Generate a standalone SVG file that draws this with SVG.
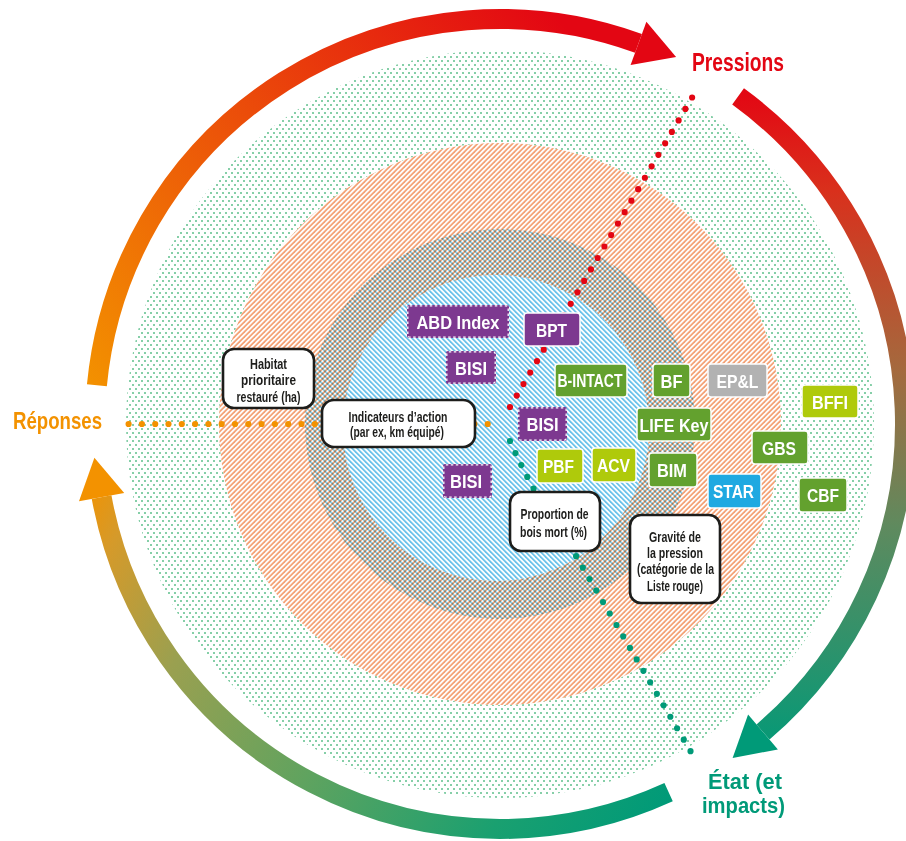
<svg xmlns="http://www.w3.org/2000/svg" width="906" height="841" viewBox="0 0 906 841">
<style>
.t{font-family:"Liberation Sans",Arial,sans-serif;font-weight:bold;}
.bx{font-size:19px;fill:#fff;text-anchor:middle;}
.wt{font-size:14.5px;fill:#1d1d1b;text-anchor:middle;}
.wb{fill:#fff;stroke:#1d1d1b;stroke-width:2.6;}
.pd{fill:#7d3990;}
.pdd{fill:none;stroke:#fff;stroke-width:1.3;stroke-dasharray:2.5 2.5;}
.pu{fill:#7d3990;stroke:#fff;stroke-width:1.5;}
.gr{fill:#63a12e;stroke:#fff;stroke-width:1.5;}
.li{fill:#afca0b;stroke:#fff;stroke-width:1.5;}
.gy{fill:#b2b2b2;stroke:#fff;stroke-width:1.5;}
.bl{fill:#1fa9e1;stroke:#fff;stroke-width:1.5;}
.dot{fill:none;stroke-width:6.2;stroke-linecap:round;stroke-dasharray:0 13.3;}
.arc{fill:none;stroke-width:20;}
</style>
<defs>
<pattern id="pGreen" patternUnits="userSpaceOnUse" width="6" height="8">
<rect x="0" y="0" width="2" height="2" fill="#86cfa8"/>
<rect x="3" y="4" width="2" height="2" fill="#86cfa8"/>
</pattern>
<pattern id="pOrange" patternUnits="userSpaceOnUse" width="5" height="5">
<polygon points="0,0 2.5,0 0,2.5" fill="#f4a377"/>
<polygon points="5,0 5,2.5 2.5,5 0,5" fill="#f4a377"/>
</pattern>
<pattern id="pBlue" patternUnits="userSpaceOnUse" width="5" height="5">
<polygon points="5,0 2.5,0 5,2.5" fill="#6cc3ea"/>
<polygon points="0,0 0,2.5 2.5,5 5,5" fill="#6cc3ea"/>
</pattern>
<linearGradient id="gTop" gradientUnits="userSpaceOnUse" x1="96" y1="400" x2="560" y2="20">
<stop offset="0" stop-color="#f39200"/>
<stop offset="1" stop-color="#e30613"/>
</linearGradient>
<linearGradient id="gRight" gradientUnits="userSpaceOnUse" x1="0" y1="90" x2="0" y2="760">
<stop offset="0" stop-color="#e30613"/>
<stop offset="0.15" stop-color="#d9301c"/>
<stop offset="0.42" stop-color="#a46a3e"/>
<stop offset="0.65" stop-color="#5f8a5e"/>
<stop offset="1" stop-color="#009a78"/>
</linearGradient>
<linearGradient id="gBottom" gradientUnits="userSpaceOnUse" x1="670" y1="800" x2="92" y2="470">
<stop offset="0" stop-color="#009a78"/>
<stop offset="0.21" stop-color="#1aa070"/>
<stop offset="0.49" stop-color="#5fa35f"/>
<stop offset="0.75" stop-color="#9aa050"/>
<stop offset="0.92" stop-color="#d59a2a"/>
<stop offset="1" stop-color="#f39200"/>
</linearGradient>
</defs>

<g id="background">
<circle cx="500" cy="424" r="374" fill="#fff"/>
<circle cx="500" cy="424" r="374" fill="url(#pGreen)"/>
<circle cx="500" cy="424" r="281" fill="#fff"/>
<circle cx="500" cy="424" r="281" fill="url(#pOrange)"/>
<circle cx="500" cy="424" r="195" fill="url(#pBlue)" opacity="0.8" style="mix-blend-mode:multiply"/>
<circle cx="496" cy="428" r="153" fill="#fff"/>
<circle cx="496" cy="428" r="153" fill="url(#pBlue)"/>
</g>

<g id="cycle">
<path class="arc" stroke="url(#gTop)" d="M96.9,385.2 A405,405 0 0 1 638.5,43.4"/>
<polygon fill="#e30613" points="646.4,21.8 676.1,57.1 630.6,65"/>
<path class="arc" stroke="url(#gRight)" d="M738.1,96.4 A405,405 0 0 1 763,732"/>
<polygon fill="#009a78" points="777.9,749.5 732.6,758 748.1,714.5"/>
<path class="arc" stroke="url(#gBottom)" d="M668.6,792.2 A405,405 0 0 1 101.6,497.1"/>
<polygon fill="#f39200" points="79,501.3 94.4,457.8 124.2,492.9"/>
</g>

<g id="connectors">
<line class="dot" stroke="#f39200" x1="128.6" y1="424" x2="501" y2="424"/>
<line class="dot" stroke="#e30613" x1="510" y1="407" x2="693" y2="96"/>
<path class="dot" stroke="#009a78" d="M510,441 Q536,500 576,556 L691,752"/>
</g>

<g id="labels" class="t">
<text id="lbl-pressions" x="692" y="71" font-size="25" fill="#e30613" textLength="92" lengthAdjust="spacingAndGlyphs">Pressions</text>
<text id="lbl-reponses" x="13" y="429" font-size="24" fill="#f39200" textLength="89" lengthAdjust="spacingAndGlyphs">Réponses</text>
<text id="lbl-etat" x="708" y="789" font-size="22" fill="#009a78" textLength="74" lengthAdjust="spacingAndGlyphs">État (et</text>
<text id="lbl-etat-2" x="702" y="813" font-size="22" fill="#009a78" textLength="83" lengthAdjust="spacingAndGlyphs">impacts)</text>
</g>

<g id="n-habitat" class="t">
<rect class="wb" x="223" y="349" width="91" height="59" rx="11"/>
<text class="wt" x="268.5" y="369.3" textLength="37" lengthAdjust="spacingAndGlyphs">Habitat</text>
<text class="wt" x="268.5" y="385.3" textLength="55" lengthAdjust="spacingAndGlyphs">prioritaire</text>
<text class="wt" x="268.5" y="401.5" textLength="64" lengthAdjust="spacingAndGlyphs">restauré (ha)</text>
</g>
<g id="n-indicateurs" class="t">
<rect class="wb" x="322" y="400" width="153" height="47" rx="12"/>
<text class="wt" x="398" y="421.7" textLength="99" lengthAdjust="spacingAndGlyphs">Indicateurs d’action</text>
<text class="wt" x="397" y="436.8" textLength="94" lengthAdjust="spacingAndGlyphs">(par ex, km équipé)</text>
</g>
<g id="n-proportion" class="t">
<rect class="wb" x="510" y="492" width="90" height="59" rx="11"/>
<text class="wt" x="554.5" y="519.3" textLength="68" lengthAdjust="spacingAndGlyphs">Proportion de</text>
<text class="wt" x="553.5" y="536.7" textLength="67" lengthAdjust="spacingAndGlyphs">bois mort (%)</text>
</g>
<g id="n-gravite" class="t">
<rect class="wb" x="630" y="515" width="90" height="88" rx="11"/>
<text class="wt" x="675" y="541.7" textLength="52" lengthAdjust="spacingAndGlyphs">Gravité de</text>
<text class="wt" x="675" y="557.5" textLength="56" lengthAdjust="spacingAndGlyphs">la pression</text>
<text class="wt" x="675.5" y="574" textLength="77" lengthAdjust="spacingAndGlyphs">(catégorie de la</text>
<text class="wt" x="675" y="590.5" textLength="56" lengthAdjust="spacingAndGlyphs">Liste rouge)</text>
</g>

<g id="n-abd-index" class="t">
<rect class="pd" x="407" y="305" width="102" height="33" rx="2"/>
<rect class="pdd" x="407.8" y="305.8" width="100.4" height="31.4" rx="2"/>
<text class="bx" x="458" y="328.5" textLength="83" lengthAdjust="spacingAndGlyphs">ABD Index</text>
</g>
<g id="n-bpt" class="t">
<rect class="pu" x="524" y="313" width="56" height="33" rx="3"/>
<text class="bx" x="551.5" y="336.5" textLength="31" lengthAdjust="spacingAndGlyphs">BPT</text>
</g>
<g id="n-bisi-1" class="t">
<rect class="pd" x="446" y="351" width="50" height="33" rx="2"/>
<rect class="pdd" x="446.8" y="351.8" width="48.4" height="31.4" rx="2"/>
<text class="bx" x="471" y="374.5" textLength="32" lengthAdjust="spacingAndGlyphs">BISI</text>
</g>
<g id="n-b-intact" class="t">
<rect class="gr" x="555" y="364" width="72" height="33" rx="3"/>
<text class="bx" x="590" y="387" font-size="18" textLength="65" lengthAdjust="spacingAndGlyphs">B-INTACT</text>
</g>
<g id="n-bf" class="t">
<rect class="gr" x="653" y="364" width="37" height="33" rx="3"/>
<text class="bx" x="671.5" y="387.5" textLength="22" lengthAdjust="spacingAndGlyphs">BF</text>
</g>
<g id="n-epl" class="t">
<rect class="gy" x="708" y="364" width="59" height="33" rx="3"/>
<text class="bx" x="737.5" y="387.5" textLength="42" lengthAdjust="spacingAndGlyphs">EP&amp;L</text>
</g>
<g id="n-bffi" class="t">
<rect class="li" x="802" y="385" width="56" height="33" rx="3"/>
<text class="bx" x="830" y="408.5" textLength="36" lengthAdjust="spacingAndGlyphs">BFFI</text>
</g>
<g id="n-bisi-2" class="t">
<rect class="pd" x="518" y="407" width="49" height="34" rx="2"/>
<rect class="pdd" x="518.8" y="407.8" width="47.4" height="32.4" rx="2"/>
<text class="bx" x="542.5" y="431" textLength="32" lengthAdjust="spacingAndGlyphs">BISI</text>
</g>
<g id="n-life-key" class="t">
<rect class="gr" x="637" y="408" width="74" height="33" rx="3"/>
<text class="bx" x="674" y="431.5" textLength="69" lengthAdjust="spacingAndGlyphs">LIFE Key</text>
</g>
<g id="n-gbs" class="t">
<rect class="gr" x="752" y="431" width="56" height="33" rx="3"/>
<text class="bx" x="779" y="454.5" textLength="34" lengthAdjust="spacingAndGlyphs">GBS</text>
</g>
<g id="n-pbf" class="t">
<rect class="li" x="537" y="449" width="46" height="34" rx="3"/>
<text class="bx" x="558.5" y="473" textLength="31" lengthAdjust="spacingAndGlyphs">PBF</text>
</g>
<g id="n-acv" class="t">
<rect class="li" x="592" y="448" width="44" height="34" rx="3"/>
<text class="bx" x="613.5" y="472" textLength="33" lengthAdjust="spacingAndGlyphs">ACV</text>
</g>
<g id="n-bim" class="t">
<rect class="gr" x="649" y="453" width="48" height="34" rx="3"/>
<text class="bx" x="672" y="477" textLength="30" lengthAdjust="spacingAndGlyphs">BIM</text>
</g>
<g id="n-bisi-3" class="t">
<rect class="pd" x="443" y="464" width="49" height="34" rx="2"/>
<rect class="pdd" x="443.8" y="464.8" width="47.4" height="32.4" rx="2"/>
<text class="bx" x="466" y="488" textLength="32" lengthAdjust="spacingAndGlyphs">BISI</text>
</g>
<g id="n-star" class="t">
<rect class="bl" x="708" y="474" width="53" height="34" rx="3"/>
<text class="bx" x="733.5" y="498" textLength="41" lengthAdjust="spacingAndGlyphs">STAR</text>
</g>
<g id="n-cbf" class="t">
<rect class="gr" x="799" y="478" width="48" height="34" rx="3"/>
<text class="bx" x="823" y="502" textLength="32" lengthAdjust="spacingAndGlyphs">CBF</text>
</g>
</svg>
